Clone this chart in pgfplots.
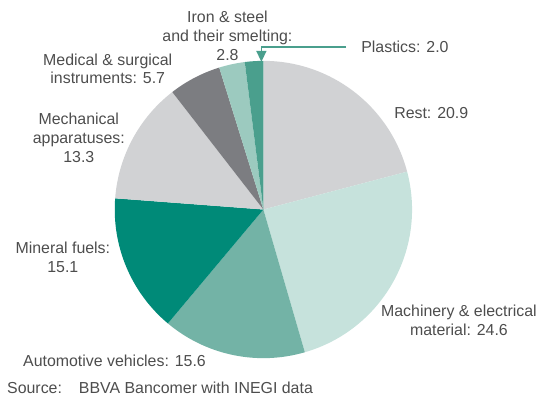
\documentclass[border=0pt]{standalone}
\usepackage{pgfplots}
\pgfplotsset{compat=1.18}
\usepackage{pgfplotstable}
\usetikzlibrary{arrows.meta}
\usepackage{fontspec}
\setmainfont{Liberation Sans}

\definecolor{cRest}{HTML}{D1D2D4}
\definecolor{cMach}{HTML}{C6E2DC}
\definecolor{cAuto}{HTML}{73B3A6}
\definecolor{cFuel}{HTML}{008A78}
\definecolor{cMech}{HTML}{D1D2D4}
\definecolor{cMed}{HTML}{7C7D81}
\definecolor{cIron}{HTML}{9CCABF}
\definecolor{cPlas}{HTML}{4A9F8D}
\definecolor{txt}{HTML}{4D4D4D}

% shares in %, clockwise from 12 o'clock
\pgfplotstableread{
share colour
20.9 cRest
24.6 cMach
15.6 cAuto
15.1 cFuel
13.3 cMech
5.7 cMed
2.8 cIron
2.0 cPlas
}\exports

\begin{document}
\begin{tikzpicture}[font=\fontsize{16}{19}\selectfont, text=txt]
\begin{axis}[
    x=1bp, y=1bp,
    xmin=0, xmax=540, ymin=0, ymax=403,
    hide axis, clip=false,
]
\path (axis cs:0,0) rectangle (axis cs:540,403);
\def\cx{264}\def\cy{193}\def\R{149}
\gdef\startang{90}
\pgfplotsforeachungrouped \i in {0,...,7}{%
  \pgfplotstablegetelem{\i}{share}\of\exports \let\sliceval\pgfplotsretval
  \pgfplotstablegetelem{\i}{colour}\of\exports \let\slicecol\pgfplotsretval
  \pgfmathsetmacro\endang{\startang-3.6*\sliceval}%
  \edef\wedge{\noexpand\fill[\slicecol] (axis cs:\cx,\cy) -- ++(\startang:\R bp)
    arc[start angle=\startang, end angle=\endang, radius=\R bp] -- cycle;}%
  \wedge
  \xdef\startang{\endang}%
}

\draw[cPlas, line width=1.5bp, -{Triangle[width=10bp,length=11bp]}]
  (axis cs:347,356) -- (axis cs:262,356) -- (axis cs:262,341);

\node[align=center] at (axis cs:228,367) {Iron \& steel\\and their smelting:\\2.8};
\node[anchor=west, inner sep=0] at (axis cs:362,356) {Plastics: 2.0};
\node[anchor=west, inner sep=0] at (axis cs:395,290) {Rest: 20.9};
\node[align=center] at (axis cs:108,334) {Medical \& surgical\\instruments: 5.7};
\node[align=center] at (axis cs:79,265) {Mechanical\\apparatuses:\\13.3};
\node[align=center] at (axis cs:63,145) {Mineral fuels:\\15.1};
\node[align=center] at (axis cs:460,81.5) {Machinery \& electrical\\material: 24.6};
\node[anchor=west, inner sep=0] at (axis cs:23,41) {Automotive vehicles: 15.6};
\node[anchor=west, inner sep=0] at (axis cs:7,14) {Source:\hspace{17bp}BBVA Bancomer with INEGI data};
\end{axis}
\end{tikzpicture}
\end{document}
